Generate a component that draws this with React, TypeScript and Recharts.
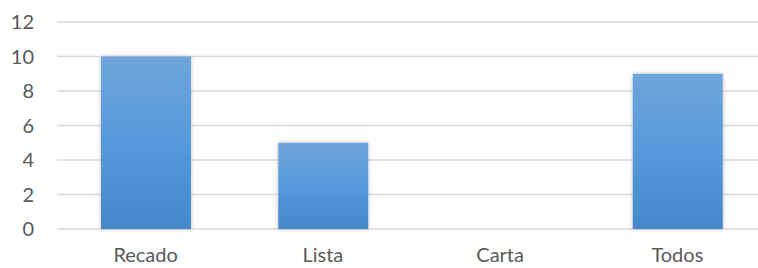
import React from 'react'
import { BarChart, Bar, XAxis, YAxis, CartesianGrid } from 'recharts'

const categories = ['Recado', 'Lista', 'Carta', 'Todos']
const counts = [10, 5, 0, 9]
const yTicks = [0, 2, 4, 6, 8, 10, 12]

const data = categories.map((name, i) => ({ name, value: counts[i] }))

const tickStyle = { fill: '#595959', fontSize: 20, fontFamily: 'Lato, "Liberation Sans", sans-serif' }

const App = () => {
  return (
    <div style={{ position: 'absolute', left: 0, top: 0, width: 758, height: 268, overflow: 'hidden', background: '#fff' }}>
      <BarChart width={766} height={268} data={data} margin={{ top: 22, right: 0, bottom: 0, left: 0 }} barSize={90}>
        <defs>
          <linearGradient id='barFill' x1='0' y1='0' x2='0' y2='1'>
            <stop offset='0%' stopColor='#6fa6dc' />
            <stop offset='50%' stopColor='#5799da' />
            <stop offset='100%' stopColor='#4488c9' />
          </linearGradient>
          <filter id='barShadow' x='-10%' y='-10%' width='120%' height='120%'>
            <feDropShadow dx='0' dy='0' stdDeviation='2' floodColor='#000' floodOpacity='0.25' />
          </filter>
        </defs>
        <CartesianGrid vertical={false} stroke='#d9d9d9' strokeWidth={1.3} />
        <XAxis dataKey='name' axisLine={false} tickLine={false} tickSize={0} tickMargin={19} height={39} tick={tickStyle} />
        <YAxis domain={[0, 12]} ticks={yTicks} axisLine={false} tickLine={false} tickSize={0} tickMargin={23} width={57} tick={tickStyle} />
        <Bar dataKey='value' fill='url(#barFill)' filter='url(#barShadow)' isAnimationActive={false} />
      </BarChart>
    </div>
  )
}

export default App
